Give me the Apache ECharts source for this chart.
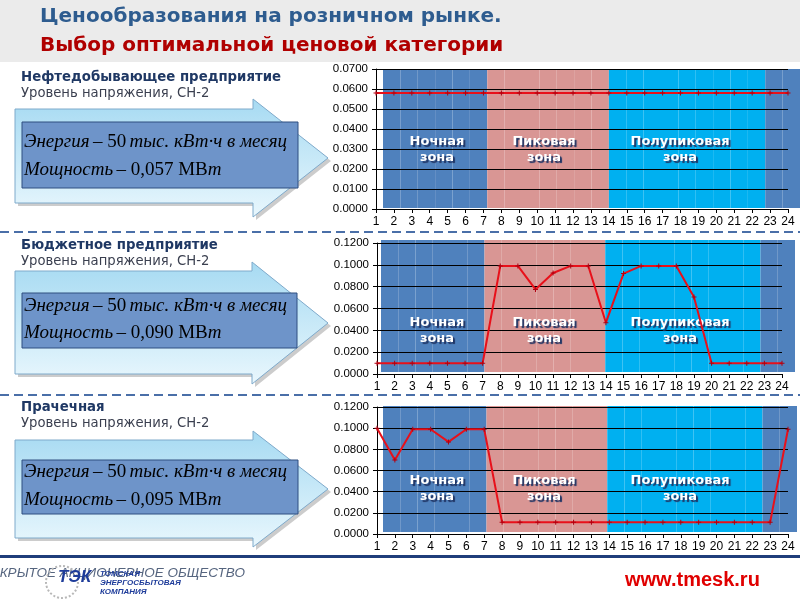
<!DOCTYPE html>
<html><head><meta charset="utf-8">
<script src="https://cdn.jsdelivr.net/npm/echarts@6/dist/echarts.min.js"></script>
<style>html,body{margin:0;padding:0;background:#fff}#c{width:800px;height:600px}</style>
</head><body><div id="c"></div>
<script>
// ---- data ----
const hours = ['1','2','3','4','5','6','7','8','9','10','11','12','13','14','15','16','17','18','19','20','21','22','23','24'];
const zoneOfHour = ['night','night','night','night','night','night',
  'peak','peak','peak','peak','peak','peak','peak',
  'semi','semi','semi','semi','semi','semi','semi','semi','semi',
  'night','night'];
const zoneNames = ['Ночная\nзона','Пиковая\nзона','Полупиковая\nзона'];
const oilValues = [0.058,0.058,0.058,0.058,0.058,0.058,0.058,0.058,0.058,0.058,0.058,0.058,
  0.058,0.058,0.058,0.058,0.058,0.058,0.058,0.058,0.058,0.058,0.058,0.058];
const budgetValues = [0.0098,0.0098,0.0098,0.0098,0.0098,0.0098,0.0098,0.099,0.099,0.0775,0.0925,0.099,
  0.099,0.047,0.092,0.099,0.099,0.099,0.0705,0.0098,0.0098,0.0098,0.0098,0.0098];
const laundryValues = [0.100,0.070,0.099,0.099,0.087,0.099,0.099,0.011,0.011,0.011,0.011,0.011,
  0.011,0.011,0.011,0.011,0.011,0.011,0.011,0.011,0.011,0.011,0.011,0.099];
const yTicksMax = [0.07, 0.12, 0.12];
const yTicksStep = [0.01, 0.02, 0.02];
const panelTitles = ['Нефтедобывающее предприятие','Бюджетное предприятие','Прачечная'];
const panelSub = 'Уровень напряжения, СН-2';
const powerValues = ['0,057','0,090','0,095'];

// ---- layout ----
const zoneColors = {night:'#4F81BD', peak:'#D99694', semi:'#00B0F0'};
const lineGrids = [
  {left:376, top:69, width:412, height:140},
  {left:377, top:243, width:405, height:131},
  {left:377, top:407, width:411, height:127}
];
const barGrids = [
  {left:383, top:69, width:417, height:139},
  {left:381, top:240, width:414, height:132},
  {left:383, top:406, width:414, height:126}
];
const panels = [
  {ty:78, sy:94, body:[109,203], head:[99,217], hx:253, box:[22,122,276,66], l1:142, l2:170, zy:[142,158]},
  {ty:246, sy:262, body:[271,374], head:[262,384], hx:252, box:[22,293,275,55], l1:306, l2:333, zy:[323,339]},
  {ty:408, sy:424, body:[440,538], head:[431,547], hx:253, box:[22,460,276,54], l1:472, l2:500, zy:[481,497]}
];
const zoneLabelX = [437, 544, 680];

const series = [[oilValues],[budgetValues],[laundryValues]];
const chart = echarts.init(document.getElementById('c'), null, {renderer:'canvas'});

const grid = [], xAxis = [], yAxis = [], ser = [];
const axisFont = {fontFamily:'Liberation Sans', fontSize:11.5, color:'#000'};
for (let i = 0; i < 3; i++) {
  grid.push(barGrids[i]);
  xAxis.push({gridIndex: 2*i, type:'category', data:hours, show:false, boundaryGap:true});
  yAxis.push({gridIndex: 2*i, type:'value', min:0, max:1, show:false});
  ser.push({type:'bar', xAxisIndex:2*i, yAxisIndex:2*i, barCategoryGap:'0%', z:-1, silent:true,
    data: zoneOfHour.map(z => ({value:1, itemStyle:{color:zoneColors[z]}}))});
  grid.push(lineGrids[i]);
  xAxis.push({gridIndex: 2*i+1, type:'category', data:hours, boundaryGap:false,
    axisLine:{lineStyle:{color:'#000'}}, axisTick:{length:4, lineStyle:{color:'#000'}},
    axisLabel:{fontFamily:'Liberation Sans Narrow, Liberation Sans', fontSize:12, color:'#000', margin:7, interval:0}});
  yAxis.push({gridIndex: 2*i+1, type:'value', min:0, max:yTicksMax[i], interval:yTicksStep[i],
    axisLine:{show:true, lineStyle:{color:'#000'}}, axisTick:{show:true, length:4, lineStyle:{color:'#000'}},
    splitLine:{lineStyle:{color:'#000', width:1}},
    axisLabel:Object.assign({margin:8, formatter:v => v.toFixed(4)}, axisFont)});
  ser.push({type:'line', xAxisIndex:2*i+1, yAxisIndex:2*i+1, data:series[i][0], z:3,
    lineStyle:{color:'#E8101A', width:2}, itemStyle:{color:'#B00010'},
    symbol:'path://M0,2H5V3H0ZM2,0H3V5H2Z', symbolSize:5, showSymbol:true});
}

// ---- graphics ----
const g = [];
g.push({type:'rect', shape:{x:0,y:0,width:800,height:62}, style:{fill:'#EBEBEB'}, z:-10});
g.push({type:'text', x:40, y:17, style:{text:'Ценообразования на розничном рынке.', fill:'#2E5C8F',
  font:'bold 20px "DejaVu Sans"', textVerticalAlign:'middle'}});
g.push({type:'text', x:40, y:46, style:{text:'Выбор оптимальной ценовой категории', fill:'#B00000',
  font:'bold 20px "DejaVu Sans"', textVerticalAlign:'middle'}});
[232, 395].forEach(y => g.push({type:'line', shape:{x1:0,y1:y,x2:800,y2:y},
  style:{stroke:'#4A6FA8', lineWidth:2, lineDash:[9,5]}}));

panels.forEach((p, i) => {
  g.push({type:'text', x:21, y:p.ty, style:{text:panelTitles[i], fill:'#1F3864',
    font:'bold 13.3px "DejaVu Sans"', textVerticalAlign:'middle'}});
  g.push({type:'text', x:21, y:p.sy, style:{text:panelSub, fill:'#3A3F4F',
    font:'13.2px "DejaVu Sans"', textVerticalAlign:'middle'}});
  const tipY = (p.head[0] + p.head[1]) / 2;
  const pts = [[15,p.body[0]],[p.hx,p.body[0]],[p.hx,p.head[0]],[328,tipY],[p.hx,p.head[1]],[p.hx,p.body[1]],[15,p.body[1]]];
  g.push({type:'polygon', shape:{points:pts.map(q=>[q[0]+3,q[1]+3])}, style:{fill:'rgba(0,0,0,0.2)'}});
  g.push({type:'polygon', shape:{points:pts}, style:{
    fill:new echarts.graphic.LinearGradient(0,0,0,1,[{offset:0,color:'#A6DAF2'},{offset:1,color:'#E9F7FD'}]),
    stroke:'#7FAACB', lineWidth:1}});
  g.push({type:'rect', shape:{x:p.box[0], y:p.box[1], width:p.box[2], height:p.box[3]},
    style:{fill:'#6E94C9', stroke:'#2F4F80', lineWidth:1}});
  g.push({type:'text', x:24, y:p.l1, style:{
    text:'{i|Энергия} {n|– 50} {i|тыс. кВт·ч в месяц}', textVerticalAlign:'middle',
    rich:{i:{font:'italic 19px "Liberation Serif"', fill:'#000'}, n:{font:'19px "Liberation Serif"', fill:'#000'}}}});
  g.push({type:'text', x:24, y:p.l2, style:{
    text:'{i|Мощность} {n|– ' + powerValues[i] + ' МВ}{i|т}', textVerticalAlign:'middle',
    rich:{i:{font:'italic 19px "Liberation Serif"', fill:'#000'}, n:{font:'19px "Liberation Serif"', fill:'#000'}}}});
  zoneNames.forEach((zn, k) => {
    const lines = zn.split('\n');
    lines.forEach((ln, j) => g.push({type:'text', x:zoneLabelX[k], y:p.zy[j], z:1, style:{
      text:ln, fill:'#fff', font:'bold 13px "DejaVu Sans"', textAlign:'center', textVerticalAlign:'middle',
      textShadowColor:'#1F3464', textShadowOffsetX:2, textShadowOffsetY:2, textShadowBlur:1}}));
  });
});

g.push({type:'rect', shape:{x:0,y:555,width:800,height:3}, style:{fill:'#1F3D7A'}});
g.push({type:'text', x:245, y:573, style:{text:'ЗАКРЫТОЕ АКЦИОНЕРНОЕ ОБЩЕСТВО', fill:'#56657F',
  font:'italic 13.5px "Liberation Sans"', textAlign:'right', textVerticalAlign:'middle'}});
g.push({type:'circle', shape:{cx:62, cy:582, r:16}, style:{fill:'none', stroke:'#B8B8B8', lineWidth:2, lineDash:[2,2]}});
g.push({type:'text', x:58, y:577, style:{text:'ТЭК', fill:'#1E3C9A', font:'bold italic 17px "Liberation Sans"', textVerticalAlign:'middle'}});
g.push({type:'text', x:100, y:574, style:{text:'ТОМСКАЯ', fill:'#1E3C9A', font:'bold italic 8px "Liberation Sans"', textVerticalAlign:'middle'}});
g.push({type:'text', x:100, y:583, style:{text:'ЭНЕРГОСБЫТОВАЯ', fill:'#1E3C9A', font:'bold italic 8px "Liberation Sans"', textVerticalAlign:'middle'}});
g.push({type:'text', x:100, y:592, style:{text:'КОМПАНИЯ', fill:'#1E3C9A', font:'bold italic 8px "Liberation Sans"', textVerticalAlign:'middle'}});
g.push({type:'text', x:625, y:580, style:{text:'www.tmesk.ru', fill:'#E00000', font:'bold 20px "Liberation Sans"', textVerticalAlign:'middle'}});

chart.setOption({animation:false, backgroundColor:'#fff', grid, xAxis, yAxis, series:ser, graphic:g});
</script></body></html>
